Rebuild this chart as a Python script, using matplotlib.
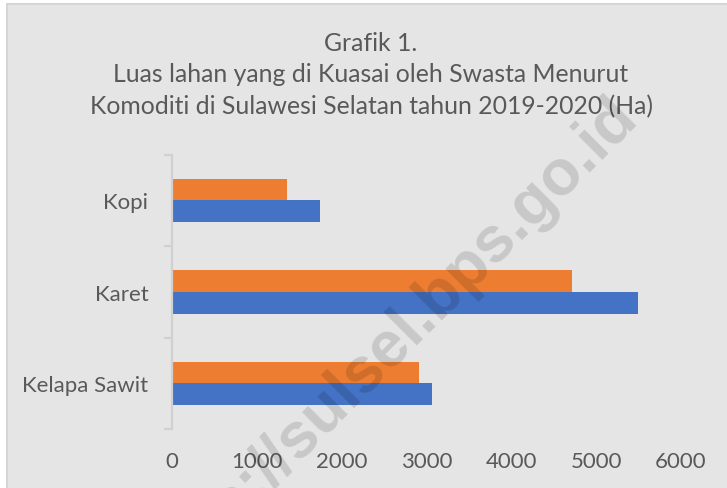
# Horizontal bar chart: land area held by private companies per commodity,
# South Sulawesi 2019-2020 (Ha).

import numpy as np
import matplotlib
matplotlib.use('Agg')
import matplotlib.pyplot as plt
from matplotlib.patches import Rectangle

# Data.
categories = ['Kelapa Sawit', 'Karet', 'Kopi']
values_2019 = [3070, 5490, 1750]   # blue bars
values_2020 = [2910, 4720, 1350]   # orange bars
x_ticks = [0, 1000, 2000, 3000, 4000, 5000, 6000]

title_lines = ['Grafik 1.',
               'Luas lahan yang di Kuasai oleh Swasta Menurut',
               'Komoditi di Sulawesi Selatan tahun 2019-2020 (Ha)']

# Colors.
blue = '#4472C4'
orange = '#ED7D31'
bg = '#e5e5e5'
text_col = '#595959'
axis_col = '#d0d0d0'

plt.rcParams['font.family'] = ['Lato', 'DejaVu Sans']

W, H = 727, 489
fig = plt.figure(figsize=(W / 100, H / 100), dpi=100)
fig.patch.set_facecolor('white')

# Chart area background with its border (only left and top edges visible).
fig.patches.append(Rectangle((6.5 / W, -0.1), 1.2, 1 - 4.5 / H + 0.1,
                             transform=fig.transFigure, facecolor=bg,
                             edgecolor='#d6d6d6', linewidth=1.5, zorder=-10))

ax = fig.add_axes([172 / W, (H - 430) / H, 509 / W, (430 - 155.7) / H])
ax.set_facecolor('none')

y = np.arange(len(categories))
h = 0.2375
ax.barh(y - h / 2, values_2019, height=h, color=blue, zorder=2)
ax.barh(y + h / 2, values_2020, height=h, color=orange, zorder=2)

ax.set_xlim(0, 6000)
ax.set_ylim(-0.5, len(categories) - 0.5)

# Spines: only the left category axis.
for s in ['top', 'right', 'bottom']:
    ax.spines[s].set_visible(False)
ax.spines['left'].set_color(axis_col)
ax.spines['left'].set_linewidth(1.6)

# Category labels at centers, tick marks at category boundaries.
ax.set_yticks(y)
ax.set_yticklabels(categories)
ax.set_yticks(np.arange(-0.5, len(categories), 1.0), minor=True)
ax.tick_params(axis='y', which='major', length=0, pad=17,
               labelsize=16, labelcolor=text_col)
ax.tick_params(axis='y', which='minor', length=5.8, width=1.6, color=axis_col)

ax.set_xticks(x_ticks)
ax.set_xticklabels([str(v) for v in x_ticks])
ax.tick_params(axis='x', length=0, pad=16, labelsize=16, labelcolor=text_col)

# Title, three centred lines.
baselines = [50.7, 82.3, 114.3]
for line, yb in zip(title_lines, baselines):
    fig.text(371 / W, 1 - yb / H, line, ha='center', va='baseline',
             fontsize=17.8, color=text_col)

# Watermark across the chart.
fig.text(639 / W, 1 - 119 / H, 'https://sulsel.bps.go.id', ha='right',
         va='baseline', rotation=45, rotation_mode='anchor', fontsize=46,
         fontweight='bold', family='Liberation Sans', color='black',
         alpha=0.13, zorder=10)

fig.savefig('out.png', dpi=100, facecolor=fig.get_facecolor())
